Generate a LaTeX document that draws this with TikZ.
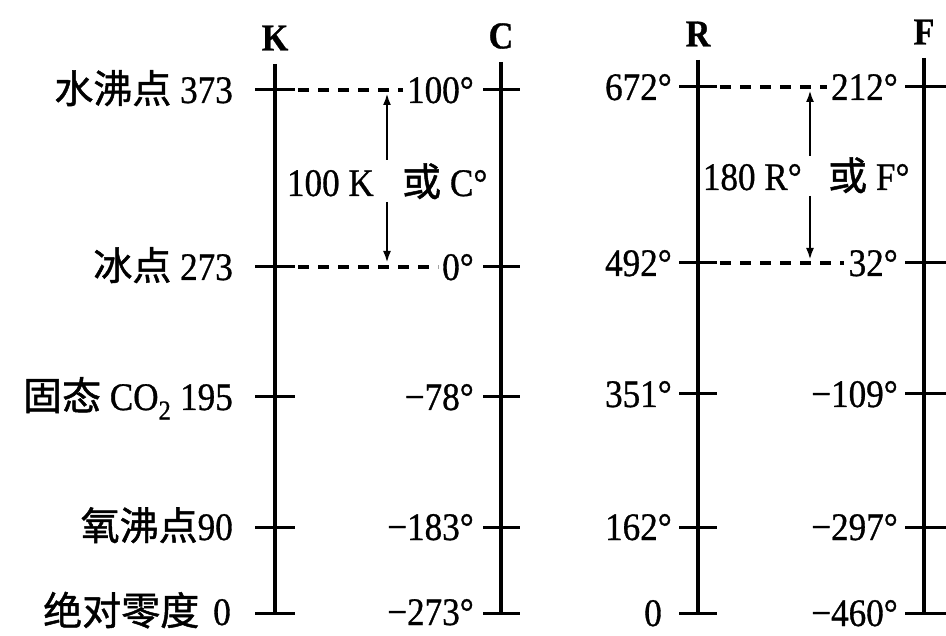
\documentclass[tikz,border=0pt]{standalone}
\usepackage{fontspec}
\setmainfont{Liberation Serif}[FakeStretch=0.9, FakeBold=0.8]
\newfontfamily\cjk{Noto Sans CJK SC}[FakeBold=1.2]
\usetikzlibrary{arrows.meta}
\newcommand\zh[1]{{\cjk #1}}
\begin{document}
\begin{tikzpicture}[x=1pt,y=-1pt,
  axisline/.style={line width=3.8pt},
  tickline/.style={line width=3pt},
  dashline/.style={line width=3.2pt, dash pattern=on 11pt off 9pt},
  arr/.style={line width=2.6pt, -{Latex[length=12pt,width=8pt]}},
  lbl/.style={inner sep=0pt, text height=26pt, text depth=0pt, font=\fontsize{39}{42}\selectfont},
  ax/.style={inner sep=0pt, font=\fontsize{38}{42}\selectfont\bfseries}]
\useasboundingbox (0,0) rectangle (946,636);
% axis names
\node[ax] (nK) at (275,38) {K};
\node[ax] (nC) at (501,36) {C};
\node[ax] (nR) at (698,34) {R};
\node[ax] (nF) at (924,32) {F};
% axes
\foreach \n/\x/\t in {K/275/64, C/501/62, R/698/60, F/924/58}{
  \coordinate (\n top) at (\x,\t);
  \coordinate (\n bot) at (\x,613);
  \draw[axisline] (\n top) -- (\n bot);
}
% ticks
\foreach \y in {90,267,397,527,613}{
  \draw[tickline] (255,\y) -- (295,\y);
  \draw[tickline] (483,\y) -- (520,\y);
}
\foreach \y in {87,263,394,527,613}{
  \draw[tickline] (679,\y) -- (717,\y);
  \draw[tickline] (905,\y) -- (946,\y);
}
% K labels
\node[lbl, anchor=east] (k1) at (233,90) {\zh{水沸点} 373};
\node[lbl, anchor=east] (k2) at (233,267) {\zh{冰点} 273};
\node[lbl, anchor=east] (k3) at (233,397) {\zh{固态} CO\textsubscript{2} 195};
\node[lbl, anchor=east] (k4) at (233,527) {\zh{氧沸点}90};
\node[lbl, anchor=east] (k5) at (231,612) {\zh{绝对零度}\hspace{14pt}0};
% C labels
\node[lbl, anchor=east] (c1) at (474,90) {100°};
\node[lbl, anchor=east] (c2) at (474,267) {0°};
\node[lbl, anchor=east] (c3) at (474,397) {−78°};
\node[lbl, anchor=east] (c4) at (474,527) {−183°};
\node[lbl, anchor=east] (c5) at (474,612) {−273°};
% R labels
\node[lbl, anchor=east] (r1) at (672,87) {672°};
\node[lbl, anchor=east] (r2) at (672,263) {492°};
\node[lbl, anchor=east] (r3) at (672,394) {351°};
\node[lbl, anchor=east] (r4) at (672,527) {162°};
\node[lbl, anchor=east] (r5) at (662,613) {0};
% F labels
\node[lbl, anchor=east] (f1) at (898,87) {212°};
\node[lbl, anchor=east] (f2) at (898,263) {32°};
\node[lbl, anchor=east] (f3) at (898,394) {−109°};
\node[lbl, anchor=east] (f4) at (898,527) {−297°};
\node[lbl, anchor=east] (f5) at (898,613) {−460°};
% dashed lines
\coordinate (kd1) at (298,90);
\coordinate (kd2) at (298,267);
\coordinate (rd1) at (720,87);
\coordinate (rd2) at (720,263);
\draw[dashline] (kd1) -- ([xshift=-4pt]c1.west |- kd1);
\draw[dashline] (kd2) -- ([xshift=-4pt]c2.west |- kd2);
\draw[dashline] (rd1) -- ([xshift=-4pt]f1.west |- rd1);
\draw[dashline] (rd2) -- ([xshift=-4pt]f2.west |- rd2);
% interval labels and arrows
\node[lbl, anchor=east] (t1a) at (374,183) {100 K};
\node[lbl, anchor=west] (t1b) at (402,183) {\zh{或} C°};
\coordinate (a1t) at (387,93);
\coordinate (a1m) at (387,160);
\coordinate (a1n) at (387,202);
\coordinate (a1b) at (387,263);
\draw[arr] (a1m) -- (a1t);
\draw[arr] (a1n) -- (a1b);
\node[lbl, anchor=east] (t2a) at (802,177) {180 R°};
\node[lbl, anchor=west] (t2b) at (828,177) {\zh{或} F°};
\coordinate (a2t) at (810,90);
\coordinate (a2m) at (810,156);
\coordinate (a2n) at (810,196);
\coordinate (a2b) at (810,260);
\draw[arr] (a2m) -- (a2t);
\draw[arr] (a2n) -- (a2b);
\end{tikzpicture}
\end{document}
